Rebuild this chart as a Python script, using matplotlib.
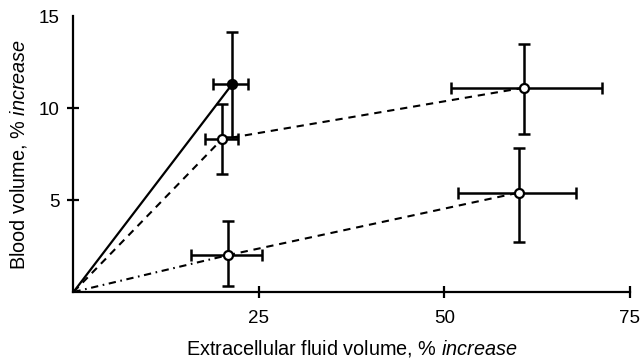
import matplotlib
matplotlib.use("Agg")
import matplotlib.pyplot as plt

plt.rcParams['font.family'] = ['Liberation Sans', 'DejaVu Sans']
plt.rcParams['mathtext.fontset'] = 'custom'
plt.rcParams['mathtext.rm'] = 'Liberation Sans'
plt.rcParams['mathtext.it'] = 'Liberation Sans:italic'

# Data
ecf_x = [21.4, 20.0, 20.8, 60.7, 60.0]
blood_y = [11.3, 8.3, 2.0, 11.1, 5.4]
x_lo = [18.8, 17.7, 15.8, 50.9, 51.8]
x_hi = [23.5, 22.2, 25.4, 71.2, 67.7]
y_lo = [8.4, 6.4, 0.35, 8.6, 2.7]
y_hi = [14.15, 10.2, 3.85, 13.5, 7.8]
filled = [True, False, False, False, False]

# line connections
solid_line_x = [0, 21.4]
solid_line_y = [0, 11.3]
dash1_x = [0, 20.0, 60.7]
dash1_y = [0, 8.3, 11.1]
dashdot_x = [0, 20.8]
dashdot_y = [0, 2.0]
dash2_x = [20.8, 60.0]
dash2_y = [2.0, 5.4]

xticks = [25, 50, 75]
yticks = [5, 10, 15]

fig = plt.figure(figsize=(6.44, 3.63), dpi=100)
ax = fig.add_axes([0.1141, 0.1956, 0.8641, 0.7603])

ax.plot(solid_line_x, solid_line_y, color='black', lw=1.6, solid_capstyle='butt', zorder=2)
ax.plot(dash1_x, dash1_y, color='black', lw=1.5, linestyle=(0, (3.5, 2.8)), zorder=2)
ax.plot(dashdot_x, dashdot_y, color='black', lw=1.5, linestyle=(0, (3.5, 2.2, 0.8, 2.2)), zorder=2)
ax.plot(dash2_x, dash2_y, color='black', lw=1.5, linestyle=(0, (3.5, 2.8)), zorder=2)

for i in range(len(ecf_x)):
    xerr = [[ecf_x[i] - x_lo[i]], [x_hi[i] - ecf_x[i]]]
    yerr = [[blood_y[i] - y_lo[i]], [y_hi[i] - blood_y[i]]]
    ax.errorbar([ecf_x[i]], [blood_y[i]], xerr=xerr, yerr=yerr, fmt='none',
                ecolor='black', elinewidth=1.8, capsize=4, capthick=1.8, zorder=3)
    ax.plot([ecf_x[i]], [blood_y[i]], marker='o', markersize=6.5,
            markerfacecolor='black' if filled[i] else 'white',
            markeredgecolor='black', markeredgewidth=1.6, zorder=4, linestyle='none')

ax.set_xlim(0, 75)
ax.set_ylim(0, 15)
for s in ['top', 'right']:
    ax.spines[s].set_visible(False)
for s in ['left', 'bottom']:
    ax.spines[s].set_linewidth(1.6)

ax.set_xticks(xticks)
ax.set_xticklabels([str(t) for t in xticks])
ax.set_yticks(yticks)
ax.set_yticklabels([str(t) for t in yticks])
ax.tick_params(axis='both', direction='inout', length=8, width=1.6, labelsize=13.5)
ax.tick_params(axis='x', pad=9)
ax.tick_params(axis='y', pad=6)
ax.yaxis.get_major_ticks()[2].tick1line.set_visible(False)

ax.set_xlabel(r"Extracellular fluid volume, % $\it{increase}$", fontsize=14.3, labelpad=8)
ax.set_ylabel(r"Blood volume, % $\it{increase}$", fontsize=14.3, labelpad=7)

fig.savefig("out.png", dpi=100)
